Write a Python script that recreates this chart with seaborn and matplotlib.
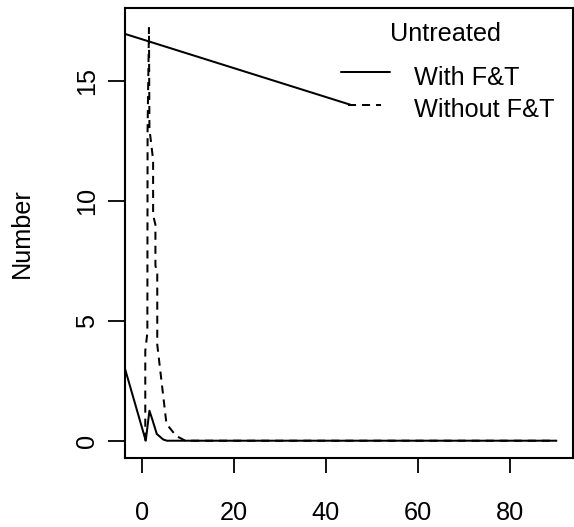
import matplotlib
matplotlib.use("Agg")
import matplotlib.pyplot as plt
import seaborn as sns
import pandas as pd

# ---- data ----
with_x = [-3.6, 0.9, 1.7, 2.3, 3.3, 4.7, 5.5, 90]
with_y = [3.0, 0.0, 1.25, 0.9, 0.28, 0.05, 0.0, 0.0]

with_top_x = [-3.6, 45.3]
with_top_y = [16.95, 14.0]

without_x = [0.8, 0.8, 1.25, 1.3, 1.6, 1.7, 2.5, 2.5, 3.0, 3.0, 3.4, 3.4, 5.4, 7.5, 9.5, 90]
without_y = [0.0, 3.75, 4.5, 13.0, 17.2, 13.0, 11.7, 9.4, 9.0, 7.3, 7.0, 4.0, 0.7, 0.2, 0.0, 0.0]

x_ticks = [0, 20, 40, 60, 80]
y_ticks = [0, 5, 10, 15]
legend_title = "Untreated"
legend_labels = ["With F&T", "Without F&T"]
y_label = "Number"

sns.set_style("white")
plt.rcParams["font.family"] = ["Liberation Sans", "DejaVu Sans"]
plt.rcParams["lines.scale_dashes"] = False
for k in ["text.color", "axes.labelcolor", "xtick.color", "ytick.color", "axes.edgecolor"]:
    plt.rcParams[k] = "black"

FS = 18.2
LW = 1.45
DASH = (5.8, 4.3)

fig = plt.figure(figsize=(5.74, 5.27), dpi=100)
ax = fig.add_axes([125 / 574, 1 - 458 / 527, (573 - 125) / 574, (458 - 8) / 527])

df_with = pd.DataFrame({"x": with_x, "y": with_y})
df_top = pd.DataFrame({"x": with_top_x, "y": with_top_y})
df_without = pd.DataFrame({"x": without_x, "y": without_y})

sns.lineplot(data=df_with, x="x", y="y", sort=False, estimator=None, color="black", lw=LW, ax=ax)
sns.lineplot(data=df_top, x="x", y="y", sort=False, estimator=None, color="black", lw=LW, ax=ax)
sns.lineplot(data=df_without, x="x", y="y", sort=False, estimator=None, color="black", lw=LW, ax=ax)
ax.lines[-1].set_linestyle((0, DASH))

ax.set_xlim(-3.6, 93.6)
ax.set_ylim(-0.72, 18.03)
ax.set_xticks(x_ticks)
ax.set_yticks(y_ticks)
ax.set_xticklabels([str(t) for t in x_ticks], fontsize=FS)
ax.set_yticklabels([str(t) for t in y_ticks], fontsize=FS, rotation=90, va="center")
ax.set_xlabel("")
ax.set_ylabel(y_label, fontsize=FS, labelpad=30)
ax.tick_params(axis="x", direction="out", length=11, width=1.3, pad=20, color="black")
ax.tick_params(axis="y", direction="out", length=12, width=1.3, pad=6.5, color="black")
ax.tick_params(bottom=True, left=True)
for s in ax.spines.values():
    s.set_visible(True)
    s.set_color("black")
    s.set_linewidth(1.5)

# legend (manual, R-style)
ax.text(66.0, 16.96, legend_title, fontsize=FS, ha="center", va="center")
ax.plot([43.2, 54.0], [15.375, 15.375], color="black", lw=LW)
ax.plot([44.8, 52.0], [14.0, 14.0], color="black", lw=LW, linestyle=(0, DASH))
ax.text(59.1, 15.1, legend_labels[0], fontsize=FS, ha="left", va="center")
ax.text(59.1, 13.8, legend_labels[1], fontsize=FS, ha="left", va="center")

fig.savefig("out.png", dpi=100)
